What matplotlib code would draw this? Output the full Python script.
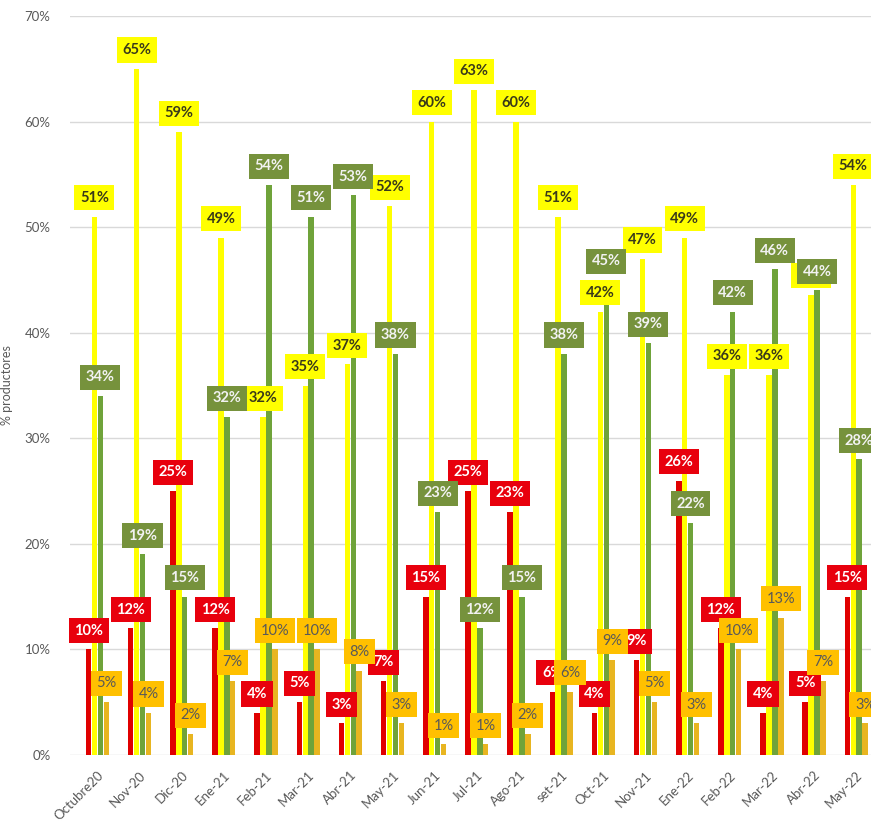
import numpy as np
import matplotlib
matplotlib.use("Agg")
import matplotlib.pyplot as plt

# months and the four series (% productores)
months = ["Octubre20", "Nov-20", "Dic-20", "Ene-21", "Feb-21", "Mar-21", "Abr-21",
          "May-21", "Jun-21", "Jul-21", "Ago-21", "set-21", "Oct-21", "Nov-21",
          "Ene-22", "Feb-22", "Mar-22", "Abr-22", "May-22"]
red_vals = [10, 12, 25, 12, 4, 5, 3, 7, 15, 25, 23, 6, 4, 9, 26, 12, 4, 5, 15]
yellow_vals = [51, 65, 59, 49, 32, 35, 37, 52, 60, 63, 60, 51, 42, 47, 49, 36, 36, 43.6, 54]
green_vals = [34, 19, 15, 32, 54, 51, 53, 38, 23, 12, 15, 38, 45, 39, 22, 42, 46, 44, 28]
orange_vals = [5, 4, 2, 7, 10, 10, 8, 3, 1, 1, 2, 6, 9, 5, 3, 10, 13, 7, 3]

plt.rcParams['font.family'] = ['Lato', 'DejaVu Sans']

fig = plt.figure(figsize=(8.71, 8.27), dpi=100)
ax = fig.add_axes([70 / 871, 1 - 755 / 827, 801 / 871, (755 - 16) / 827])

x = np.arange(len(months))
w = 0.13
step = 0.14

series = [
    (red_vals, "#E00000", "#E8000D", "white", "bold"),
    (yellow_vals, "#FFFF00", "#FFFF00", "#3A3A1A", "bold"),
    (green_vals, "#6FA33A", "#76923C", "#F2F2F2", "bold"),
    (orange_vals, "#E8B520", "#FFC000", "#595959", "normal"),
]

for i, (vals, bar_col, box_col, txt_col, weight) in enumerate(series):
    off = (i - 1.5) * step
    ax.bar(x + off, vals, width=w, color=bar_col, zorder=2)
    for xi, v in zip(x, vals):
        ax.annotate(f"{v:.0f}%", (xi + off, v), xytext=(0, 8.5),
                    textcoords="offset points", ha="center", va="bottom",
                    fontsize=10.5, fontweight=weight, color=txt_col, zorder=10 + i,
                    bbox=dict(boxstyle="square,pad=0.38", fc=box_col, ec="none"),
                    annotation_clip=False)

ax.set_xlim(-0.65, 18.35)
ax.set_ylim(0, 70)
ax.set_yticks(range(0, 71, 10))
ax.set_yticklabels([f"{t}%" for t in range(0, 71, 10)])
ax.set_xticks(x)
ax.set_xticklabels(months, rotation=45, ha="right", rotation_mode="anchor")
ax.tick_params(axis="both", length=0, colors="#595959", labelsize=9.5)
ax.tick_params(axis="y", pad=14)
ax.tick_params(axis="x", pad=10)
ax.grid(axis="y", color="#D9D9D9", linewidth=1, zorder=0)
ax.set_axisbelow(True)
for s in ax.spines.values():
    s.set_visible(False)
ax.set_ylabel("% productores", color="#595959", fontsize=9, labelpad=8)

fig.savefig("out.png", dpi=100)
